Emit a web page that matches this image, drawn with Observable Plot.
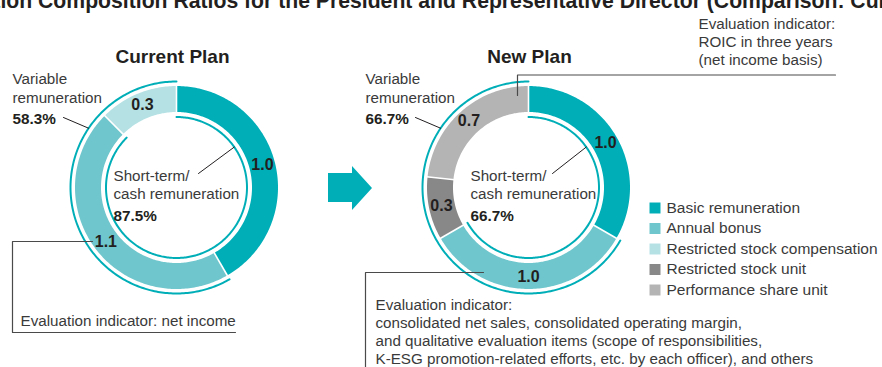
<!DOCTYPE html>
<html>
<head>
<meta charset="utf-8">
<script src="https://cdn.jsdelivr.net/npm/d3@7"></script>
<script src="https://cdn.jsdelivr.net/npm/@observablehq/plot@0.6"></script>
<style>
  body { margin: 0; overflow: hidden; background: #fff; }
  #chart svg { display: block; }
</style>
</head>
<body>
<div id="chart"></div>
<script>
// ---------------- DATA ----------------
const categories = ["Basic remuneration", "Annual bonus", "Restricted stock compensation", "Restricted stock unit", "Performance share unit"];
const planNames = ["Current Plan", "New Plan"];
const currentPlan = [1.0, 1.1, 0.3, 0, 0];
const newPlan = [1.0, 1.0, 0, 0.3, 0.7];
const variableLabel = ["Variable", "remuneration"];
const shortTermLabel = ["Short-term/", "cash remuneration"];
const currentNote = ["Evaluation indicator: net income"];
const roicNote = ["Evaluation indicator:", "ROIC in three years", "(net income basis)"];
const bonusNote = ["Evaluation indicator:", "consolidated net sales, consolidated operating margin,", "and qualitative evaluation items (scope of responsibilities,", "K-ESG promotion-related efforts, etc. by each officer), and others"];
const titleText = "Remuneration Composition Ratios for the President and Representative Director (Comparison: Current Plan and New Plan)";

// ---------------- STYLE / LAYOUT ----------------
const colors = ["#00aeb8", "#6fc6cc", "#b5e1e4", "#888888", "#b4b4b4"];
const TEAL = "#00aeb8", INK = "#231f20", GRAY = "#3a3a3a";
const W = 882, H = 367;
const R_SEG = 88.5, SEG_W = 26, R_OUT = 106, R_IN = 70.5, R_LAB = 89;
const FS = 15.2;
const layout = [
  {cx: 176, cy: 187, titleX: 172, sideX: 12, centerX: 113, varLead: [63, 117], stLead: [198, 173]},
  {cx: 528, cy: 187, titleX: 529, sideX: 365, centerX: 470, varLead: [415, 117], stLead: [552, 173]}
];

function polar(cx, cy, r, deg) {
  const t = deg * Math.PI / 180;
  return {x: cx + r * Math.sin(t), y: cy - r * Math.cos(t)};
}
function arcPts(cx, cy, r, a0, a1, extra) {
  const n = Math.max(2, Math.ceil(Math.abs(a1 - a0)));
  return d3.range(n + 1).map(i => ({...polar(cx, cy, r, a0 + (a1 - a0) * i / n), ...extra}));
}

const segPts = [], seps = [], segLabels = [], thinArcs = [], leaders = [];
const regText = [], boldText = [], titleRows = [];
[currentPlan, newPlan].forEach((vals, pi) => {
  const L = layout[pi];
  const total = d3.sum(vals);
  let acc = 0;
  const segs = [];
  vals.forEach((v, i) => {
    if (!v) return;
    const a0 = acc / total * 360, a1 = (acc + v) / total * 360;
    acc += v;
    segs.push({cat: categories[i], v, a0, a1});
  });
  segs.forEach((s, si) => {
    segPts.push(...arcPts(L.cx, L.cy, R_SEG, s.a0, s.a1, {key: pi + "-" + si, cat: s.cat}));
    const p1 = polar(L.cx, L.cy, R_SEG - SEG_W / 2 - 1, s.a0), p2 = polar(L.cx, L.cy, R_SEG + SEG_W / 2 + 1, s.a0);
    seps.push({x1: p1.x, y1: p1.y, x2: p2.x, y2: p2.y});
    const m = polar(L.cx, L.cy, R_LAB, (s.a0 + s.a1) / 2);
    segLabels.push({...m, text: s.v.toFixed(1)});
  });
  const basicEnd = segs[0].a1, bonusEnd = segs[1].a1;
  thinArcs.push(...arcPts(L.cx, L.cy, R_OUT, basicEnd, 360, {key: "out" + pi}));
  thinArcs.push(...arcPts(L.cx, L.cy, R_IN, 0, bonusEnd, {key: "in" + pi}));
  const varPct = ((total - vals[0]) / total * 100).toFixed(1) + "%";
  const stPct = ((vals[0] + vals[1]) / total * 100).toFixed(1) + "%";
  const ve = polar(L.cx, L.cy, R_OUT, 304);
  leaders.push({x: L.varLead[0], y: L.varLead[1], key: "v" + pi}, {x: ve.x, y: ve.y, key: "v" + pi});
  const se = polar(L.cx, L.cy, R_IN, 55);
  leaders.push({x: L.stLead[0], y: L.stLead[1], key: "s" + pi}, {x: se.x, y: se.y, key: "s" + pi});
  titleRows.push({x: L.titleX, y: 62, text: planNames[pi]});
  regText.push({x: L.sideX, y: 83.5, text: variableLabel[0]}, {x: L.sideX, y: 102.5, text: variableLabel[1]});
  boldText.push({x: L.sideX, y: 123.5, text: varPct});
  regText.push({x: L.centerX, y: 180, text: shortTermLabel[0]}, {x: L.centerX, y: 198.5, text: shortTermLabel[1]});
  boldText.push({x: L.centerX, y: 220, text: stPct});
});

regText.push({x: 20, y: 325, text: currentNote[0]});
roicNote.forEach((t, i) => regText.push({x: 698, y: 28.5 + i * 17.8, text: t}));
bonusNote.forEach((t, i) => regText.push({x: 375, y: 309.5 + i * 17.9, text: t}));
const noteLines = [
  {x: 92, y: 241, key: "a"}, {x: 12, y: 241, key: "a"}, {x: 12, y: 332, key: "a"}, {x: 235, y: 332, key: "a"},
  {x: 517, y: 95, key: "b"}, {x: 517, y: 74.5, key: "b"}, {x: 835, y: 74.5, key: "b"},
  {x: 483, y: 272, key: "c"}, {x: 365, y: 272, key: "c"}, {x: 365, y: 380, key: "c"}
];
const arrow = [
  {x: 328, y1: 173, y2: 202}, {x: 352, y1: 173, y2: 202},
  {x: 352, y1: 166, y2: 210}, {x: 372, y1: 188, y2: 188}
];
const legendRows = categories.map((c, i) => ({cat: c, x: 654.5, tx: 666, y: 207.5 + i * 20.5}));

const ctx = document.createElement("canvas").getContext("2d");
ctx.font = 'bold 20px "Liberation Sans"';
const visW = ctx.measureText("ion Composition Ratios for the President and Representative Director (Comparison: Cu").width;
const titleSize = 20 * 879 / visW;
const preW = ctx.measureText("Remunerat").width * titleSize / 20;

const chart = Plot.plot({
  width: W, height: H,
  margin: 0,
  x: {domain: [0, W], range: [0, W], axis: null},
  y: {domain: [0, H], range: [0, H], axis: null},
  color: {domain: categories, range: colors},
  style: {fontFamily: '"Liberation Sans", Arial, sans-serif', fontSize: "15px", background: "#fff"},
  marks: [
    Plot.text([titleText], {x: -preW, y: 7, text: d => d, textAnchor: "start", lineAnchor: "bottom", fontWeight: "bold", fontSize: titleSize, fill: INK}),
    Plot.line(segPts, {x: "x", y: "y", z: "key", stroke: "cat", strokeWidth: SEG_W, strokeLinecap: "butt", strokeLinejoin: "round", curve: "linear"}),
    Plot.link(seps, {x1: "x1", y1: "y1", x2: "x2", y2: "y2", stroke: "#fff", strokeWidth: 1.6}),
    Plot.line(thinArcs, {x: "x", y: "y", z: "key", stroke: TEAL, strokeWidth: 2, curve: "linear"}),
    Plot.line(leaders, {x: "x", y: "y", z: "key", stroke: INK, strokeWidth: 1}),
    Plot.line(noteLines, {x: "x", y: "y", z: "key", stroke: "#4a4a4a", strokeWidth: 1.2}),
    Plot.text(segLabels, {x: "x", y: "y", text: "text", fontWeight: "bold", fontSize: 16, fill: INK}),
    Plot.text(titleRows, {x: "x", y: "y", text: "text", fontWeight: "bold", fontSize: 19, lineAnchor: "bottom", fill: INK}),
    Plot.text(regText, {x: "x", y: "y", text: "text", textAnchor: "start", lineAnchor: "bottom", fontSize: FS, fill: GRAY}),
    Plot.text(boldText, {x: "x", y: "y", text: "text", textAnchor: "start", lineAnchor: "bottom", fontSize: 15.3, fontWeight: "bold", fill: INK}),
    Plot.areaY(arrow, {x: "x", y1: "y1", y2: "y2", fill: TEAL, curve: "linear"}),
    Plot.dot(legendRows, {x: "x", y: "y", fill: "cat", symbol: "square", r: 6.2}),
    Plot.text(legendRows, {x: "tx", y: "y", text: "cat", textAnchor: "start", fontSize: 15.5, fill: GRAY})
  ]
});
document.getElementById("chart").append(chart);
</script>
</body>
</html>
